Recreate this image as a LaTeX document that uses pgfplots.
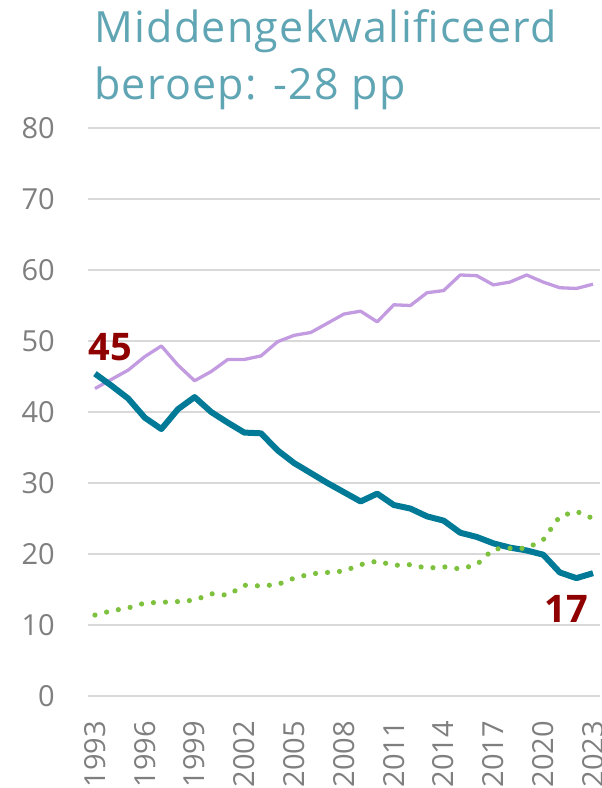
\documentclass[border=0pt]{standalone}
\usepackage{fontspec}
\setmainfont{Open Sans}
\usepackage{pgfplots}
\pgfplotsset{compat=1.18}
\definecolor{titlec}{HTML}{5FA5B4}
\definecolor{teal1}{HTML}{007A96}
\definecolor{purp}{HTML}{C39BE1}
\definecolor{grn}{HTML}{7DC13E}
\definecolor{dred}{HTML}{8F0000}
\definecolor{gridc}{HTML}{D9D9D9}
\definecolor{tickc}{HTML}{7F7F7F}
\begin{document}
\begin{tikzpicture}[x=1pt,y=1pt]
\useasboundingbox (0,0) rectangle (602,788);
\node[anchor=base west, inner sep=0pt, text=titlec, font=\fontsize{43}{50}\selectfont\addfontfeatures{LetterSpace=3}] at (94,745) {Middengekwalificeerd};
\node[anchor=base west, inner sep=0pt, text=titlec, font=\fontsize{43}{50}\selectfont\addfontfeatures{LetterSpace=3}] at (94,688) {beroep: -28 pp};
\begin{axis}[
  at={(88pt,92pt)}, anchor=south west,
  scale only axis, width=512pt, height=568pt,
  xmin=1992.58, xmax=2023.42, ymin=0, ymax=80,
  axis line style={draw=none},
  major tick length=0pt,
  ymajorgrids, grid style={gridc, line width=1.3pt},
  ytick={0,10,...,80},
  xtick={1993,1996,...,2023},
  /pgf/number format/assume math mode=true,
  /pgf/number format/1000 sep={},
  tick label style={text=tickc, font=\fontsize{29}{30}\selectfont},
  yticklabel style={anchor=east, inner sep=0pt, xshift=-33pt},
  xticklabel style={rotate=90, anchor=east, inner sep=0pt, xshift=-25pt},
  clip=false,
]
\addplot[purp, line width=3.3pt, line join=round] coordinates {
(1993,43.3)(1994,44.6)(1995,45.9)(1996,47.8)(1997,49.3)(1998,46.6)(1999,44.4)(2000,45.7)
(2001,47.4)(2002,47.4)(2003,47.9)(2004,49.9)(2005,50.8)(2006,51.2)(2007,52.5)(2008,53.8)
(2009,54.2)(2010,52.7)(2011,55.1)(2012,55.0)(2013,56.8)(2014,57.1)(2015,59.3)(2016,59.2)
(2017,57.9)(2018,58.3)(2019,59.3)(2020,58.3)(2021,57.5)(2022,57.4)(2023,58.0)};
\addplot[teal1, line width=6pt, line join=round] coordinates {
(1993,45.4)(1994,43.7)(1995,41.9)(1996,39.2)(1997,37.6)(1998,40.4)(1999,42.1)(2000,40.0)
(2001,38.5)(2002,37.1)(2003,37.0)(2004,34.6)(2005,32.8)(2006,31.4)(2007,30.0)(2008,28.7)
(2009,27.4)(2010,28.5)(2011,26.9)(2012,26.4)(2013,25.3)(2014,24.7)(2015,23.0)(2016,22.4)
(2017,21.5)(2018,20.9)(2019,20.5)(2020,19.9)(2021,17.4)(2022,16.6)(2023,17.3)};
\addplot[grn, line width=5.2pt, line cap=round, dash pattern=on 0pt off 12pt] coordinates {
(1993,11.4)(1994,12.0)(1995,12.4)(1996,13.1)(1997,13.2)(1998,13.3)(1999,13.5)(2000,14.4)
(2001,14.2)(2002,15.6)(2003,15.5)(2004,15.7)(2005,16.6)(2006,17.2)(2007,17.4)(2008,17.6)
(2009,18.5)(2010,19.0)(2011,18.4)(2012,18.5)(2013,18.0)(2014,18.2)(2015,17.9)(2016,18.5)
(2017,20.7)(2018,20.8)(2019,20.8)(2020,22.0)(2021,25.3)(2022,26.0)(2023,25.0)};
\node[anchor=base west, inner sep=0pt, text=dred, font=\bfseries\fontsize{38}{40}\selectfont] at (axis cs:1992.62,47.2) {45};
\node[anchor=base east, inner sep=0pt, text=dred, font=\bfseries\fontsize{38}{40}\selectfont] at (axis cs:2022.72,10.3) {17};
\end{axis}
\end{tikzpicture}
\end{document}
